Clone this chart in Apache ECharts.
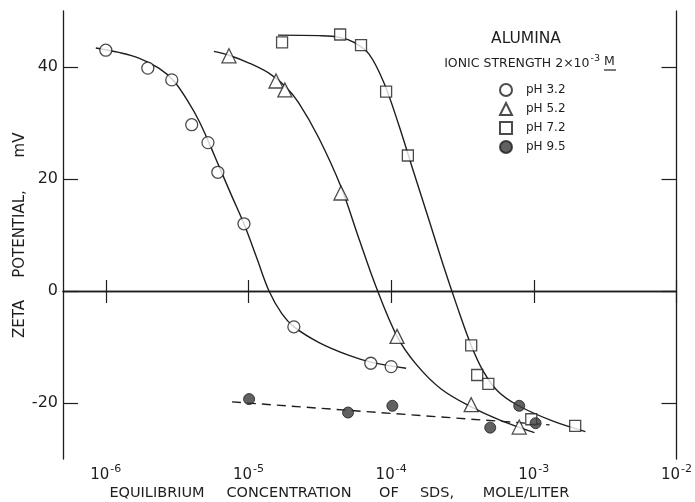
<!DOCTYPE html>
<html><head><meta charset="utf-8">
<script src="https://cdn.jsdelivr.net/npm/echarts@6/dist/echarts.min.js"></script>
<style>html,body{margin:0;padding:0;background:#fff}#c{width:695px;height:502px}</style>
</head><body><div id="c"></div>
<script>
// Axis ticks
const xTickExps = [-6, -5, -4, -3, -2];
const yTicks = [-20, 0, 20, 40];

// pH 3.2 (open circles): SDS concentration (mol/L) and zeta potential (mV)
const ph32Conc = [1.0e-6, 1.97e-6, 2.9e-6, 4.0e-6, 5.2e-6, 6.1e-6, 9.3e-6, 2.08e-5, 7.2e-5, 1.0e-4];
const ph32Zeta = [43.0, 39.8, 37.7, 29.7, 26.5, 21.2, 12.0, -6.4, -12.9, -13.5];
const ph32CurveConc = [8.51e-7, 1.234e-6, 1.704e-6, 2.353e-6, 3.0e-6, 3.823e-6, 4.494e-6, 5.282e-6, 6.209e-6, 7.536e-6, 9.30e-6, 1.147e-5, 1.393e-5, 1.718e-5, 2.086e-5, 3.124e-5, 5.07e-5, 7.24e-5, 1.274e-4];
const ph32CurveZeta = [43.4, 42.6, 41.6, 39.8, 37.5, 33.6, 30.4, 26.5, 22.3, 17.3, 12.0, 5.8, 0, -4.1, -6.4, -9.2, -11.5, -12.7, -13.8];

// pH 5.2 (open triangles)
const ph52Conc = [7.3e-6, 1.56e-5, 1.8e-5, 4.45e-5, 1.1e-4, 3.64e-4, 7.9e-4];
const ph52Zeta = [42.0, 37.5, 35.9, 17.5, -8.1, -20.3, -24.3];
const ph52CurveConc = [5.73e-6, 7.3e-6, 1.01e-5, 1.39e-5, 1.8e-5, 2.25e-5, 3.1e-5, 4.45e-5, 5.9e-5, 7.8e-5, 1.1e-4, 1.5e-4, 2.24e-4, 3.64e-4, 5.73e-4, 1.01e-3];
const ph52CurveZeta = [42.8, 42.1, 40.7, 38.9, 36.6, 33.6, 27.4, 18.6, 9.6, 0.9, -8.1, -13.1, -17.5, -20.7, -23.0, -25.3];

// pH 7.2 (open squares)
const ph72Conc = [1.72e-5, 4.39e-5, 6.15e-5, 9.22e-5, 1.31e-4, 3.64e-4, 4.01e-4, 4.8e-4, 9.6e-4, 1.95e-3];
const ph72Zeta = [44.4, 45.8, 43.9, 35.6, 24.2, -9.7, -15.0, -16.6, -22.9, -24.1];
const ph72CurveConc = [1.61e-5, 3.13e-5, 4.35e-5, 5.5e-5, 7.0e-5, 8.9e-5, 1.13e-4, 1.44e-4, 1.83e-4, 2.32e-4, 2.86e-4, 3.6e-4, 4.42e-4, 5.6e-4, 7.7e-4, 1.35e-3, 2.3e-3];
const ph72CurveZeta = [45.7, 45.6, 45.3, 44.4, 42.3, 37.2, 29.7, 21.2, 12.9, 4.6, -2.3, -9.4, -14.3, -17.9, -20.4, -23.2, -25.1];

// pH 9.5 (filled circles) and dashed trend line
const ph95Conc = [1.01e-5, 4.99e-5, 1.02e-4, 4.95e-4, 7.9e-4, 1.03e-3];
const ph95Zeta = [-19.3, -21.7, -20.5, -24.4, -20.5, -23.6];
const ph95LineConc = [7.66e-6, 1.29e-3];
const ph95LineZeta = [-19.8, -23.9];

// Axis title words (spaced as in the original lettering)
const xTitleWords = ['EQUILIBRIUM', 'CONCENTRATION', 'OF', 'SDS,', 'MOLE/LITER'];
const yTitleWords = ['ZETA', 'POTENTIAL,', 'mV'];

const INK = '#1e1e1e';
const FONT = 'DejaVu Sans';
const toPts = (xs, ys) => xs.map((x, i) => [Math.log10(x), ys[i]]);

const chart = echarts.init(document.getElementById('c'));
const scatterBase = {
  type: 'scatter',
  itemStyle: { color: '#fff', borderColor: INK, borderWidth: 1.3 },
  z: 5
};
const curveBase = {
  type: 'line', smooth: 0.35, symbol: 'none', silent: true,
  lineStyle: { color: INK, width: 1.4 }, z: 3
};

const xWordPos = [157, 289, 389, 437, 526];
const yWordPos = [319, 234, 145];
const titleGraphics = [];
xTitleWords.forEach((w, i) => titleGraphics.push({ type: 'text', x: xWordPos[i], y: 493,
  style: { text: w, fontFamily: FONT, fontSize: 14.5, fill: INK, align: 'center', verticalAlign: 'middle' } }));
yTitleWords.forEach((w, i) => titleGraphics.push({ type: 'text', x: 20, y: yWordPos[i], rotation: Math.PI / 2,
  style: { text: w, fontFamily: FONT, fontSize: 15, fill: INK, align: 'center', verticalAlign: 'middle' } }));

chart.setOption({
  backgroundColor: '#fff',
  animation: false,
  grid: { left: 63, right: 18, top: 11, bottom: 43 },
  xAxis: [{
    type: 'value', min: -6.3, max: -2,
    axisLine: { lineStyle: { color: INK, width: 1.3 } },
    axisTick: { inside: true, length: 11, customValues: xTickExps, lineStyle: { color: INK, width: 1.2 } },
    axisLabel: {
      customValues: xTickExps, margin: 5, color: INK,
      formatter: v => '{a|10}{b|' + String(v) + '}',
      rich: {
        a: { fontFamily: FONT, fontSize: 15, color: INK, verticalAlign: 'bottom' },
        b: { fontFamily: FONT, fontSize: 11, color: INK, verticalAlign: 'bottom', padding: [0, 0, 8, 1] }
      }
    },
    splitLine: { show: false }
  }, {
    type: 'value', min: -6.3, max: -2, position: 'top',
    axisLine: { show: true, lineStyle: { color: INK, width: 1.3 } },
    axisTick: { inside: true, length: 12, customValues: xTickExps, lineStyle: { color: INK, width: 1.2 } },
    axisLabel: { show: false },
    splitLine: { show: false }
  }],
  yAxis: [{
    type: 'value', min: -30, max: 50,
    axisLine: { show: true, lineStyle: { color: INK, width: 1.3 } },
    axisTick: { inside: true, length: 15, customValues: yTicks, lineStyle: { color: INK, width: 1.2 } },
    axisLabel: { customValues: yTicks, margin: 5, fontFamily: FONT, fontSize: 16, color: INK },
    splitLine: { show: false }
  }, {
    type: 'value', min: -30, max: 50, position: 'right',
    axisLine: { show: true, lineStyle: { color: INK, width: 1.3 } },
    axisTick: { inside: true, length: 15, customValues: yTicks, lineStyle: { color: INK, width: 1.2 } },
    axisLabel: { show: false },
    splitLine: { show: false }
  }],
  legend: {
    orient: 'vertical', left: 494, top: 78, itemWidth: 12, itemHeight: 12, itemGap: 5,
    textStyle: { fontFamily: FONT, fontSize: 12, color: INK, padding: [0, 0, 0, 9] },
    selectedMode: false,
    data: [
      { name: 'pH 3.2' }, { name: 'pH 5.2' }, { name: 'pH 7.2' }, { name: 'pH 9.5' }
    ]
  },
  graphic: titleGraphics.concat([
    { type: 'text', x: 526, y: 39, style: { text: 'ALUMINA', fontFamily: FONT, fontSize: 15.5, fill: INK, align: 'center', verticalAlign: 'middle' } },
    { type: 'text', x: 600, y: 62, style: {
        text: '{t|IONIC STRENGTH 2×10}{s|-3}', align: 'right', verticalAlign: 'middle',
        rich: {
          t: { fontFamily: FONT, fontSize: 12.5, fill: INK, verticalAlign: 'bottom' },
          s: { fontFamily: FONT, fontSize: 9.5, fill: INK, verticalAlign: 'bottom', padding: [0, 0, 6, 1] }
        } } },
    { type: 'text', x: 604, y: 62, style: { text: 'M', fontFamily: FONT, fontSize: 12.5, fill: INK, align: 'left', verticalAlign: 'middle' } },
    { type: 'line', shape: { x1: 604, y1: 70, x2: 616, y2: 70 }, style: { stroke: INK, lineWidth: 1.2 } }
  ]),
  series: [
    Object.assign({}, curveBase, { name: 'c32', data: toPts(ph32CurveConc, ph32CurveZeta),
      markLine: { silent: true, symbol: 'none', label: { show: false }, lineStyle: { color: INK, width: 1.1, type: 'solid' }, data: [{ yAxis: 0 }] } }),
    Object.assign({}, curveBase, { name: 'c52', data: toPts(ph52CurveConc, ph52CurveZeta) }),
    Object.assign({}, curveBase, { name: 'c72', data: toPts(ph72CurveConc, ph72CurveZeta) }),
    { name: 'l95', type: 'line', symbol: 'none', silent: true, data: toPts(ph95LineConc, ph95LineZeta),
      lineStyle: { color: INK, width: 1.4, type: [9, 6] }, z: 3 },
    Object.assign({}, scatterBase, { name: 'pH 3.2', symbol: 'circle', symbolSize: 12, data: toPts(ph32Conc, ph32Zeta) }),
    Object.assign({}, scatterBase, { name: 'pH 5.2', symbol: 'triangle', symbolSize: 14, data: toPts(ph52Conc, ph52Zeta) }),
    Object.assign({}, scatterBase, { name: 'pH 7.2', symbol: 'rect', symbolSize: 11, data: toPts(ph72Conc, ph72Zeta) }),
    Object.assign({}, scatterBase, { name: 'pH 9.5', symbol: 'circle', symbolSize: 11, itemStyle: { color: '#3a3a3a', borderColor: INK, borderWidth: 1 }, data: toPts(ph95Conc, ph95Zeta) })
  ]
});
</script></body></html>
